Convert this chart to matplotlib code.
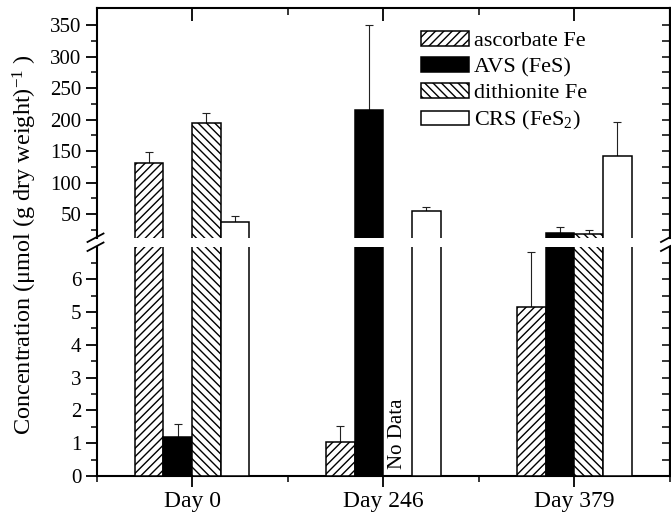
import numpy as np
import matplotlib
matplotlib.use("Agg")
import matplotlib.pyplot as plt
from matplotlib.lines import Line2D
from matplotlib.ticker import FixedLocator

plt.rcParams['font.family'] = ['Liberation Serif', 'DejaVu Serif']
plt.rcParams['mathtext.fontset'] = 'custom'
plt.rcParams['mathtext.rm'] = 'Liberation Serif'
plt.rcParams['mathtext.it'] = 'Liberation Serif:italic'
plt.rcParams['hatch.linewidth'] = 1.0

days = ["Day 0", "Day 246", "Day 379"]
series = ["ascorbate Fe", "AVS (FeS)", "dithionite Fe", "CRS (FeS$_2$)"]
ascorbate = [131.0, 1.04, 5.15]
ascorbate_err = [18.0, 0.47, 1.67]
avs = [1.2, 216.0, 19.8]
avs_err = [0.4, 135.0, 9.0]
dithionite = [194.0, np.nan, 18.3]
dithionite_err = [17.0, np.nan, 5.7]
crs = [37.8, 55.0, 143.0]
crs_err = [9.5, 6.0, 53.0]

values = [ascorbate, avs, dithionite, crs]
errors = [ascorbate_err, avs_err, dithionite_err, crs_err]
faces = ['white', 'black', 'white', 'white']
hatches = ['////', None, '\\\\\\\\', None]

W, H = 671, 512
fig = plt.figure(figsize=(W / 100, H / 100), dpi=100)

left, right = 96.5 / W, 670.0 / W
up_bot, up_top = 1 - 238.0 / H, 1 - 8.3 / H
lo_bot, lo_top = 1 - 476.0 / H, 1 - 246.5 / H
ax_up = fig.add_axes([left, up_bot, right - left, up_top - up_bot])
ax_lo = fig.add_axes([left, lo_bot, right - left, lo_top - lo_bot])

x = np.arange(len(days))
width = 0.15
offsets = [-0.225, -0.075, 0.075, 0.225]

for ax in (ax_up, ax_lo):
    for i in range(4):
        v = np.array(values[i], dtype=float)
        e = np.array(errors[i], dtype=float)
        m = ~np.isnan(v)
        ax.bar(x[m] + offsets[i], v[m], width, color=faces[i], edgecolor='black',
               hatch=hatches[i], linewidth=1.1, label=series[i], zorder=3)
        ax.errorbar(x[m] + offsets[i], v[m], yerr=[np.zeros(m.sum()), e[m]],
                    fmt='none', ecolor='#222222', elinewidth=0.8, capsize=3.0,
                    capthick=0.8, zorder=2)
    ax.set_xlim(-0.5, 2.5)
    for s in ax.spines.values():
        s.set_linewidth(1.5)

ax_up.set_ylim(12, 377)
ax_lo.set_ylim(0, 7)

ax_up.spines['bottom'].set_visible(False)
ax_lo.spines['top'].set_visible(False)

# y ticks
ax_up.yaxis.set_major_locator(FixedLocator([50, 100, 150, 200, 250, 300, 350]))
ax_up.yaxis.set_minor_locator(FixedLocator([25, 75, 125, 175, 225, 275, 325]))
ax_lo.yaxis.set_major_locator(FixedLocator([0, 1, 2, 3, 4, 5, 6]))
ax_lo.yaxis.set_minor_locator(FixedLocator([0.5, 1.5, 2.5, 3.5, 4.5, 5.5, 6.5]))
for ax in (ax_up, ax_lo):
    ax.tick_params(axis='y', which='major', direction='out', length=8, width=1.3,
                   labelsize=15, pad=3)
    ax.tick_params(axis='y', which='minor', direction='out', length=4, width=1.1)
    sec = ax.secondary_yaxis('right')
    sec.set_yticks(ax.get_yticks(minor=False))
    sec.set_yticks(ax.yaxis.get_minorticklocs(), minor=True)
    sec.tick_params(which='both', direction='in', length=6, width=1.1, labelright=False)
    sec.spines['right'].set_linewidth(1.5)

# x ticks
for ax in (ax_up, ax_lo):
    ax.set_xticks(x)
    ax.set_xticks([-0.5, 0.5, 1.5, 2.5], minor=True)
ax_lo.set_xticklabels(days)
ax_lo.tick_params(axis='x', which='major', direction='out', length=8, width=1.3,
                  labelsize=17, pad=3, top=False)
ax_lo.tick_params(axis='x', which='minor', direction='out', length=4, width=1.1, top=False)
ax_up.tick_params(axis='x', which='major', direction='in', length=9, width=1.3,
                  top=True, bottom=False, labelbottom=False)
ax_up.tick_params(axis='x', which='minor', direction='in', length=5, width=1.1,
                  top=True, bottom=False)

# No Data label
ax_lo.text(1 + offsets[2], 0.2, "No Data", rotation=90, ha='center', va='bottom',
           fontsize=15)

# y label
fig.text(25 / W, 1 - 245 / H, "Concentration (\u03bcmol (g dry weight)$^{-1}$ )",
         rotation=90, ha='center', va='center', fontsize=17.5)

# break marks
for xb in (96.5, 670.0):
    for yb in (237.5, 246.5):
        fig.add_artist(Line2D([(xb - 9) / W, (xb + 7) / W],
                              [1 - (yb + 4.5) / H, 1 - (yb - 4) / H],
                              color='black', linewidth=1.3))

# legend
handles, labels = ax_up.get_legend_handles_labels()
ax_up.legend(handles[:4], labels[:4], loc='upper left',
             bbox_to_anchor=(421.0 / W, 1 - 31.0 / H), bbox_transform=fig.transFigure,
             frameon=False, fontsize=16, handlelength=2.15, handleheight=0.63,
             handletextpad=0.25, labelspacing=0.27, borderpad=0, borderaxespad=0)

fig.savefig("out.png", dpi=100)
